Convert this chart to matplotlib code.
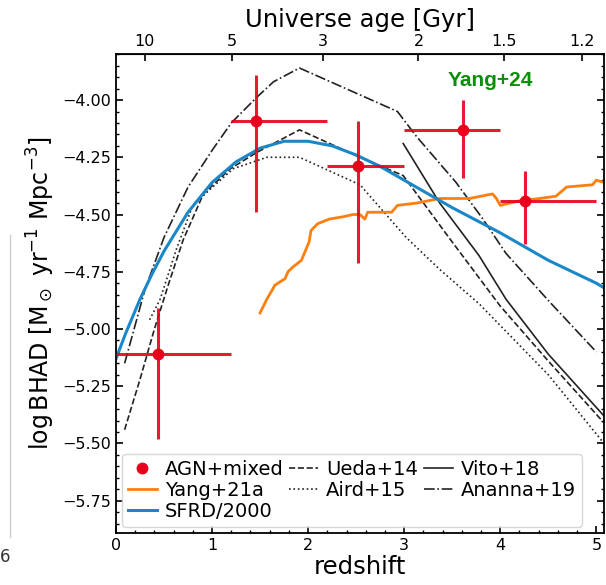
import numpy as np
import matplotlib.pyplot as plt

# AGN+mixed points (Yang+24), bins in redshift
agn_z = [0.44, 1.46, 2.52, 3.61, 4.26]
agn_zlo = [0.0, 1.2, 2.2, 3.0, 4.0]
agn_zhi = [1.2, 2.2, 3.0, 4.0, 5.0]
agn_y = [-5.11, -4.09, -4.29, -4.13, -4.44]
agn_yhi = [-4.91, -3.89, -4.09, -4.00, -4.31]
agn_ylo = [-5.48, -4.49, -4.71, -4.34, -4.63]

# Yang+21a
yang_z = [1.50, 1.57, 1.64, 1.65, 1.76, 1.79, 1.84, 1.93, 1.98, 2.01, 2.03, 2.10, 2.22,
          2.36, 2.47, 2.54, 2.59, 2.62, 2.87, 2.93, 3.13, 3.37, 3.68, 3.92, 3.96, 4.00,
          4.20, 4.41, 4.58, 4.69, 4.96, 5.00, 5.08]
yang_y = [-4.93, -4.87, -4.82, -4.81, -4.78, -4.75, -4.73, -4.70, -4.65, -4.62, -4.57, -4.54, -4.52,
          -4.51, -4.50, -4.50, -4.52, -4.49, -4.49, -4.46, -4.45, -4.43, -4.43, -4.41, -4.43, -4.46,
          -4.44, -4.43, -4.42, -4.38, -4.37, -4.35, -4.36]

# SFRD/2000
sfrd_z = [0, 0.1, 0.25, 0.375, 0.5, 0.75, 1.0, 1.25, 1.5, 1.75, 2.0, 2.25, 2.5, 2.75, 3.0,
          3.5, 4.0, 4.5, 5.0, 5.08]
sfrd_y = [-5.13, -5.02, -4.87, -4.76, -4.66, -4.49, -4.36, -4.27, -4.21, -4.18, -4.18, -4.20,
          -4.24, -4.29, -4.35, -4.47, -4.58, -4.70, -4.80, -4.82]

# Ueda+14
ueda_z = [0.09, 0.25, 0.40, 0.55, 0.70, 0.91, 1.19, 1.46, 1.91, 2.54, 2.99, 3.5, 4.0, 4.5, 5.08]
ueda_y = [-5.44, -5.22, -5.00, -4.80, -4.61, -4.41, -4.30, -4.23, -4.13, -4.25, -4.33, -4.62,
          -4.90, -5.14, -5.41]

# Aird+15
aird_z = [0.35, 0.46, 0.63, 0.80, 0.98, 1.22, 1.57, 1.91, 2.54, 3.02, 3.37, 3.78, 4.5, 5.08]
aird_y = [-4.96, -4.87, -4.65, -4.46, -4.39, -4.30, -4.25, -4.25, -4.37, -4.60, -4.74, -4.89,
          -5.20, -5.50]

# Vito+18
vito_z = [2.99, 3.37, 3.78, 4.06, 4.5, 5.08]
vito_y = [-4.19, -4.45, -4.68, -4.87, -5.11, -5.38]

# Ananna+19
ananna_z = [0.09, 0.30, 0.50, 0.75, 1.0, 1.20, 1.46, 1.64, 1.91, 2.93, 3.13, 3.54, 3.82, 4.06,
            4.51, 5.00]
ananna_y = [-5.15, -4.83, -4.60, -4.38, -4.22, -4.10, -3.99, -3.92, -3.86, -4.05, -4.16, -4.36,
            -4.52, -4.67, -4.88, -5.10]

age_ticks = [10, 5, 3, 2, 1.5, 1.2]
age_labels = ['10', '5', '3', '2', '1.5', '1.2']

red = '#e8001c'
blue = '#1a87c8'
orange = '#ff7f0e'
black = '#222222'


def z2age(z):
    z = np.clip(np.asarray(z, dtype=float), -0.99, None)
    return 11.13 * np.arcsinh(1.5275 * (1 + z) ** -1.5)


def age2z(t):
    t = np.clip(np.asarray(t, dtype=float), 1e-3, 13.4)
    return (np.sinh(t / 11.13) / 1.5275) ** (-2.0 / 3.0) - 1


fig = plt.figure(figsize=(6.06, 5.85), dpi=100)
ax = fig.add_axes([0.1914, 0.0894, 0.8053, 0.8178])

ax.plot(ueda_z, ueda_y, ls='--', color=black, lw=1.2, label='Ueda+14')
ax.plot(aird_z, aird_y, ls=':', color=black, lw=1.2, label='Aird+15')
ax.plot(vito_z, vito_y, ls='-', color=black, lw=1.2, label='Vito+18')
ax.plot(ananna_z, ananna_y, ls='-.', color=black, lw=1.2, label='Ananna+19')
ax.plot(yang_z, yang_y, color=orange, lw=2, label='Yang+21a')
ax.plot(sfrd_z, sfrd_y, color=blue, lw=2.2, label='SFRD/2000')

xerr = [np.array(agn_z) - np.array(agn_zlo), np.array(agn_zhi) - np.array(agn_z)]
yerr = [np.array(agn_y) - np.array(agn_ylo), np.array(agn_yhi) - np.array(agn_y)]
ax.errorbar(agn_z, agn_y, xerr=xerr, yerr=yerr, fmt='none', ecolor=red, elinewidth=2.2,
            capsize=0, alpha=0.9, zorder=5)
ax.plot(agn_z, agn_y, 'o', color=red, ms=7.5, ls='none', label='AGN+mixed', zorder=6)

ax.set_xlim(0, 5.08)
ax.set_ylim(-5.89, -3.80)
ax.set_xticks([0, 1, 2, 3, 4, 5])
ax.set_yticks([-5.75, -5.5, -5.25, -5.0, -4.75, -4.5, -4.25, -4.0])
ax.set_yticklabels(['\u22125.75', '\u22125.50', '\u22125.25', '\u22125.00', '\u22124.75',
                    '\u22124.50', '\u22124.25', '\u22124.00'])
ax.xaxis.set_minor_locator(plt.MultipleLocator(0.2))
ax.yaxis.set_minor_locator(plt.MultipleLocator(0.05))
ax.tick_params(which='both', direction='in', top=False, right=True, labelsize=11.5)
ax.tick_params(which='major', length=5, width=1.2)
ax.tick_params(which='minor', length=2.5, width=1)
for s in ax.spines.values():
    s.set_linewidth(1.3)

ax.set_xlabel('redshift', fontsize=17.5, labelpad=2)
ax.set_ylabel(r'log$\,$BHAD [M$_\odot$ yr$^{-1}$ Mpc$^{-3}$]', fontsize=17, labelpad=4)

sec = ax.secondary_xaxis('top', functions=(z2age, age2z))
sec.set_xticks(age_ticks)
sec.set_xticklabels(age_labels)
sec.tick_params(direction='in', length=5, width=1.2, labelsize=11.5)
sec.xaxis.set_minor_locator(plt.NullLocator())
sec.set_xlabel('Universe age [Gyr]', fontsize=17.5, labelpad=5)

ax.text(0.68, 0.945, 'Yang+24', transform=ax.transAxes, color='#0a8f0a', fontsize=15,
        fontweight='bold', family='Liberation Sans', ha='left', va='center')

handles, labels = ax.get_legend_handles_labels()
order = ['AGN+mixed', 'Yang+21a', 'SFRD/2000', 'Ueda+14', 'Aird+15', 'Vito+18', 'Ananna+19']
hmap = dict(zip(labels, handles))
from matplotlib.lines import Line2D
blank = Line2D([], [], alpha=0)
hs = [hmap['AGN+mixed'], hmap['Yang+21a'], hmap['SFRD/2000'],
      hmap['Ueda+14'], hmap['Aird+15'], blank,
      hmap['Vito+18'], hmap['Ananna+19'], blank]
ls = ['AGN+mixed', 'Yang+21a', 'SFRD/2000', 'Ueda+14', 'Aird+15', '', 'Vito+18', 'Ananna+19', '']
ax.legend(hs, ls, loc='lower left', ncol=3, fontsize=14, handlelength=1.5, handletextpad=0.4,
          columnspacing=0.3, labelspacing=0.1, borderaxespad=0.3, borderpad=0.3)

# remnant of neighbouring panel at the left edge
fig.add_artist(Line2D([10 / 606, 10 / 606], [1 - 537 / 585, 1 - 235 / 585], color='#cccccc', lw=1))
fig.text(0.0, 1 - 557 / 585, '6', fontsize=12, va='center', ha='left', color='#333333')

fig.savefig('out.png', dpi=100)
